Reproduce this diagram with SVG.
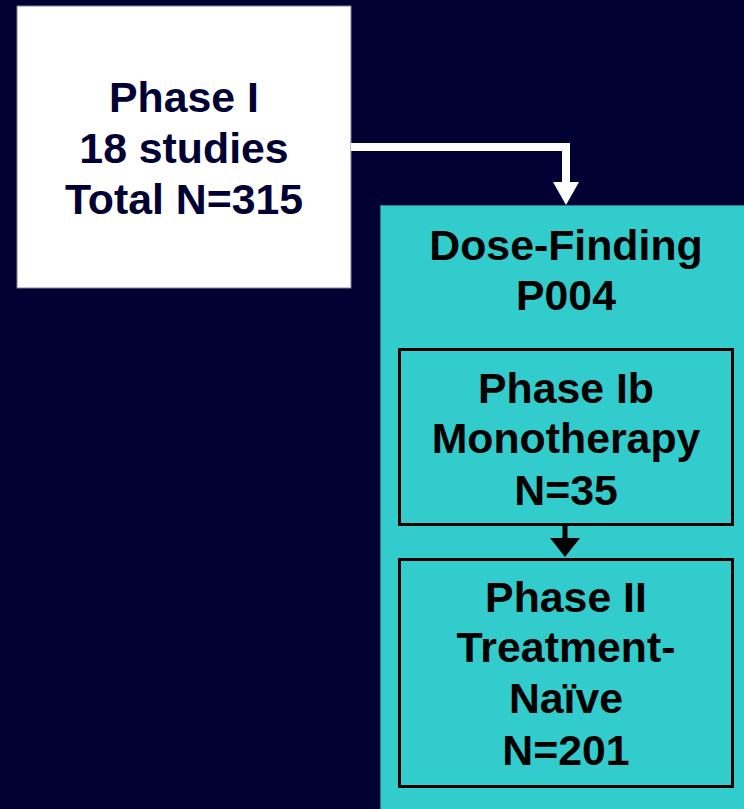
<svg xmlns="http://www.w3.org/2000/svg" width="744" height="809" viewBox="0 0 744 809">
<defs>
<style>
.t{font-family:"Liberation Sans",Arial,sans-serif;font-weight:bold;font-size:42.8px;text-anchor:middle}
.navy{fill:#000033}
.blk{fill:#000000}
.inner{fill:#33CCCC;stroke:#000000;stroke-width:3}
</style>
</defs>
<rect x="0" y="0" width="744" height="809" fill="#000033"/>
<g id="phase1">
<rect x="17" y="6" width="334" height="282" fill="#ffffff" stroke="#8080a0" stroke-width="1"/>
<text class="t navy" x="184" y="112">Phase I</text>
<text class="t navy" x="184" y="163">18 studies</text>
<text class="t navy" x="184" y="214">Total N=315</text>
</g>
<g id="p004">
<rect x="380.5" y="205.5" width="370" height="610" fill="#33CCCC" stroke="#1f7f90" stroke-width="1"/>
<text class="t blk" x="566" y="260">Dose-Finding</text>
<text class="t blk" x="566" y="310">P004</text>
</g>
<g id="phase1b">
<rect class="inner" x="399.5" y="349.5" width="333" height="175"/>
<text class="t blk" x="566" y="403">Phase Ib</text>
<text class="t blk" x="566" y="453">Monotherapy</text>
<text class="t blk" x="566" y="505">N=35</text>
</g>
<g id="phase2">
<rect class="inner" x="399.5" y="559.5" width="333" height="227"/>
<text class="t blk" x="566" y="612">Phase II</text>
<text class="t blk" x="566" y="662">Treatment-</text>
<text class="t blk" x="566" y="713">Naïve</text>
<text class="t blk" x="566" y="765">N=201</text>
</g>
<g id="connectors">
<path d="M351 147 H566 V184" fill="none" stroke="#ffffff" stroke-width="8"/>
<polygon points="553,182 579,182 566,205" fill="#ffffff"/>
<path d="M565 525 V540" fill="none" stroke="#000000" stroke-width="5"/>
<polygon points="550,538 580,538 565,557" fill="#000000"/>
</g>
</svg>
